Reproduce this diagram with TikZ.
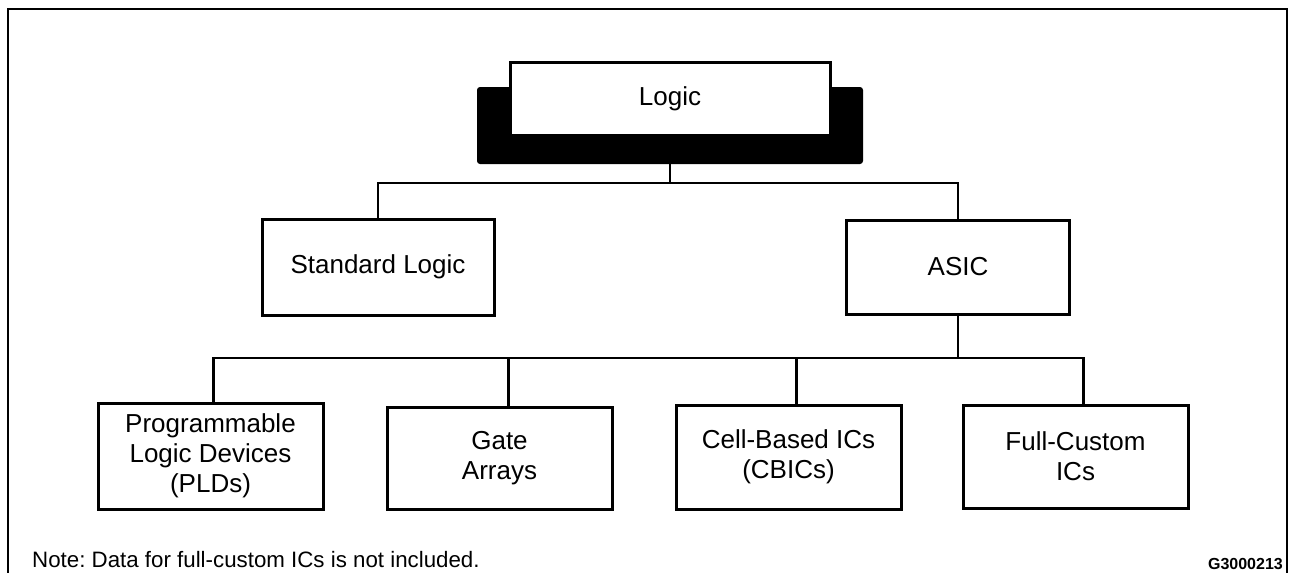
\documentclass[tikz,border=0pt]{standalone}
\usepackage{fontspec}
\setmainfont{Liberation Sans}
\frenchspacing
\begin{document}
\begin{tikzpicture}[x=1pt,y=-1pt,
  box/.style={draw, line width=3pt, fill=white, align=center, inner sep=0pt,
    font=\fontsize{26}{30}\selectfont},
  conn/.style={line width=2.6pt},
  frame/.style={line width=2.8pt}]
\useasboundingbox (0,0) rectangle (1291,573);
\draw[frame] (8,573) -- (8,9) -- (1287,9) -- (1287,573);
% top node
\node[fill=black, minimum width=386pt, minimum height=77pt, inner sep=0pt, rounded corners=3pt] (logicbg) at (670,125.5) {};
\node[box, minimum width=320pt, minimum height=73pt] (logic) at (670,98.5) {Logic};
% second level
\node[box, minimum width=232pt, minimum height=96pt] (std) at (378,267) {Standard Logic};
\node[box, minimum width=223pt, minimum height=94pt] (asic) at (958,267) {ASIC};
% third level
\node[box, minimum width=225pt, minimum height=106pt] (pld) at (210.5,456) {Programmable\\Logic Devices\\(PLDs)};
\node[box, minimum width=225pt, minimum height=102pt] (gate) at (499.5,458) {Gate\\Arrays};
\node[box, minimum width=225pt, minimum height=104pt] (cell) at (788.5,457) {Cell-Based ICs\\(CBICs)};
\node[box, minimum width=225pt, minimum height=103pt] (full) at (1075.5,456.5) {Full-Custom\\ICs};
% buses
\coordinate (busA) at (0,183);
\coordinate (busB) at (0,358);
\coordinate (pldt) at ([xshift=3pt]pld.north);
\coordinate (gatet) at ([xshift=9pt]gate.north);
\coordinate (cellt) at ([xshift=8pt]cell.north);
\coordinate (fullt) at ([xshift=8pt]full.north);
\draw[conn] (logicbg.south) -- (logicbg.south |- busA);
\draw[conn] (std.north) -- (std.north |- busA) -- (asic.north |- busA) -- (asic.north);
\draw[conn] (asic.south) -- (asic.south |- busB);
\draw[conn] (pldt) -- (pldt |- busB) -- (fullt |- busB) -- (fullt);
\draw[conn] (gatet) -- (gatet |- busB);
\draw[conn] (cellt) -- (cellt |- busB);
% notes
\node[anchor=base west, inner sep=0pt, font=\fontsize{22.3}{26}\selectfont] (note) at (32,567) {Note: Data for full-custom ICs is not included.};
\node[anchor=base east, inner sep=0pt, font=\bfseries\fontsize{16}{18}\selectfont] (code) at (1283,569) {G3000213};
\end{tikzpicture}
\end{document}
